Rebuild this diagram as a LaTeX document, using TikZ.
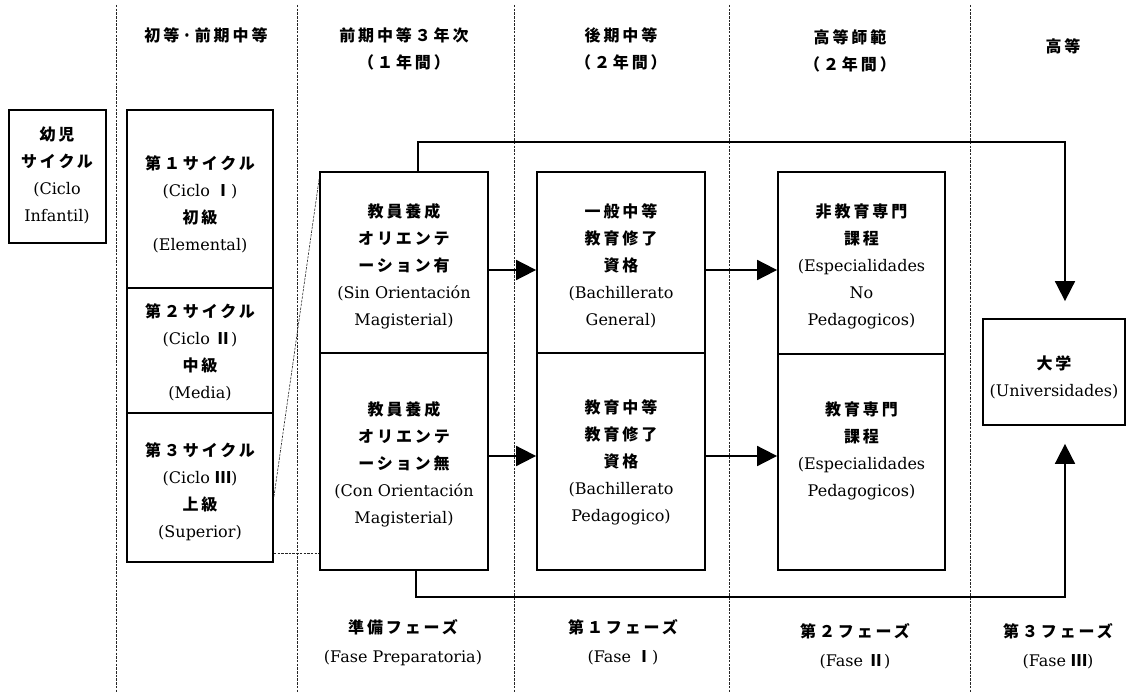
\documentclass[tikz,border=0pt]{standalone}
\usepackage{fontspec}
\setmainfont{DejaVu Serif}
\newfontfamily\jpf[LetterSpace=18]{Noto Sans CJK JP}
\newcommand\jp{\jpf\bfseries}
\usetikzlibrary{arrows.meta}
\begin{document}
\begin{tikzpicture}[x=1pt,y=-1pt,
  box/.style={draw, line width=1.8pt, inner sep=0pt},
  lbl/.style={align=center, font=\fontsize{16}{27}\selectfont, inner sep=0pt},
  guide/.style={line width=0.6pt, dash pattern=on 2.5pt off 1.2pt, black!85},
  conn/.style={line width=1.8pt},
  arr/.style={conn, -{Triangle[length=20pt,width=20pt]}}]
\useasboundingbox[fill=white] (0,0) rectangle (1128,695);

% column separators
\foreach \gx in {116,297,514,729,970} \draw[guide] (\gx,5) -- (\gx,692);

% headers
\node[lbl] (h1) at (206,35) {\jp 初等·前期中等};
\node[lbl] (h2) at (404,48.5) {\jp 前期中等３年次\\\jp （１年間）};
\node[lbl] (h3) at (621,48.5) {\jp 後期中等\\\jp （２年間）};
\node[lbl] (h4) at (850,50.5) {\jp 高等師範\\\jp （２年間）};
\node[lbl] (h5) at (1063,46) {\jp 高等};

% boxes
\node[box, minimum width=97pt, minimum height=133pt] (yoji) at (57.5,176.5) {};
\node[box, minimum width=146pt, minimum height=178pt] (c1) at (200,199) {};
\node[box, minimum width=146pt, minimum height=125pt] (c2) at (200,350.5) {};
\node[box, minimum width=146pt, minimum height=149pt] (c3) at (200,487.5) {};
\node[box, minimum width=168pt, minimum height=181pt] (prepA) at (404,262.5) {};
\node[box, minimum width=168pt, minimum height=217pt] (prepB) at (404,461.5) {};
\node[box, minimum width=168pt, minimum height=181pt] (bachA) at (621,262.5) {};
\node[box, minimum width=168pt, minimum height=217pt] (bachB) at (621,461.5) {};
\node[box, minimum width=167pt, minimum height=182pt] (espA) at (861.5,263) {};
\node[box, minimum width=167pt, minimum height=216pt] (espB) at (861.5,462) {};
\node[box, minimum width=142pt, minimum height=106pt] (univ) at (1054,372) {};

% box texts
\node[lbl] (tyoji) at (57,175) {\jp 幼児\\\jp サイクル\\(Ciclo\\Infantil)};
\node[lbl] (tc1) at (200,204) {\jp 第１サイクル\\(Ciclo {\jp Ⅰ})\\\jp 初級\\(Elemental)};
\node[lbl] (tc2) at (200,352) {\jp 第２サイクル\\(Ciclo {\jp Ⅱ})\\\jp 中級\\(Media)};
\node[lbl] (tc3) at (200,492) {\jp 第３サイクル\\(Ciclo {\jp Ⅲ})\\\jp 上級\\(Superior)};
\node[lbl] (tpA) at (404,266) {\jp 教員養成\\\jp オリエンテ\\\jp ーション有\\(Sin Orientación\\Magisterial)};
\node[lbl] (tpB) at (404,464) {\jp 教員養成\\\jp オリエンテ\\\jp ーション無\\(Con Orientación\\Magisterial)};
\node[lbl] (tbA) at (621,266) {\jp 一般中等\\\jp 教育修了\\\jp 資格\\(Bachillerato\\General)};
\node[lbl] (tbB) at (621,462) {\jp 教育中等\\\jp 教育修了\\\jp 資格\\(Bachillerato\\Pedagogico)};
\node[lbl] (teA) at (861.5,266) {\jp 非教育専門\\\jp 課程\\(Especialidades\\No\\Pedagogicos)};
\node[lbl] (teB) at (861.5,451) {\jp 教育専門\\\jp 課程\\(Especialidades\\Pedagogicos)};
\node[lbl] (tu) at (1054,377.5) {\jp 大学\\(Universidades)};

% bottom phase labels
\node[lbl] (f0) at (403,642.5) {\jp 準備フェーズ\\[2pt](Fase Preparatoria)};
\node[lbl] (f1) at (623,642.5) {\jp 第１フェーズ\\[2pt](Fase {\jp Ⅰ})};
\node[lbl] (f2) at (855,646) {\jp 第２フェーズ\\[2pt](Fase {\jp Ⅱ})};
\node[lbl] (f3) at (1058,646) {\jp 第３フェーズ\\[2pt](Fase {\jp Ⅲ})};

% dotted links from cycle 3 to preparatory phase
\coordinate (dg) at (0,497);
\coordinate (dh) at (0,553);
\draw[guide] ([yshift=-8pt]prepA.north west) -- (c3.east |- dg);
\draw[guide] (c3.east |- dh) -- (prepB.west |- dh);

% horizontal arrows
\coordinate (rA) at (0,270);
\coordinate (rB) at (0,456);
\draw[arr] (prepA.east |- rA) -- (bachA.west |- rA);
\draw[arr] (prepB.east |- rB) -- (bachB.west |- rB);
\draw[arr] (bachA.east |- rA) -- (espA.west |- rA);
\draw[arr] (bachB.east |- rB) -- (espB.west |- rB);

% loops to university
\coordinate (tl) at (418,142);
\coordinate (tr) at (1065,142);
\coordinate (bl) at (416,597);
\coordinate (br) at (1065,597);
\draw[arr, shorten >=17pt] (prepA.north -| tl) -- (tl) -- (tr) -- (univ.north -| tr);
\draw[arr, shorten >=18pt] (prepB.south -| bl) -- (bl) -- (br) -- (univ.south -| br);
\end{tikzpicture}
\end{document}
